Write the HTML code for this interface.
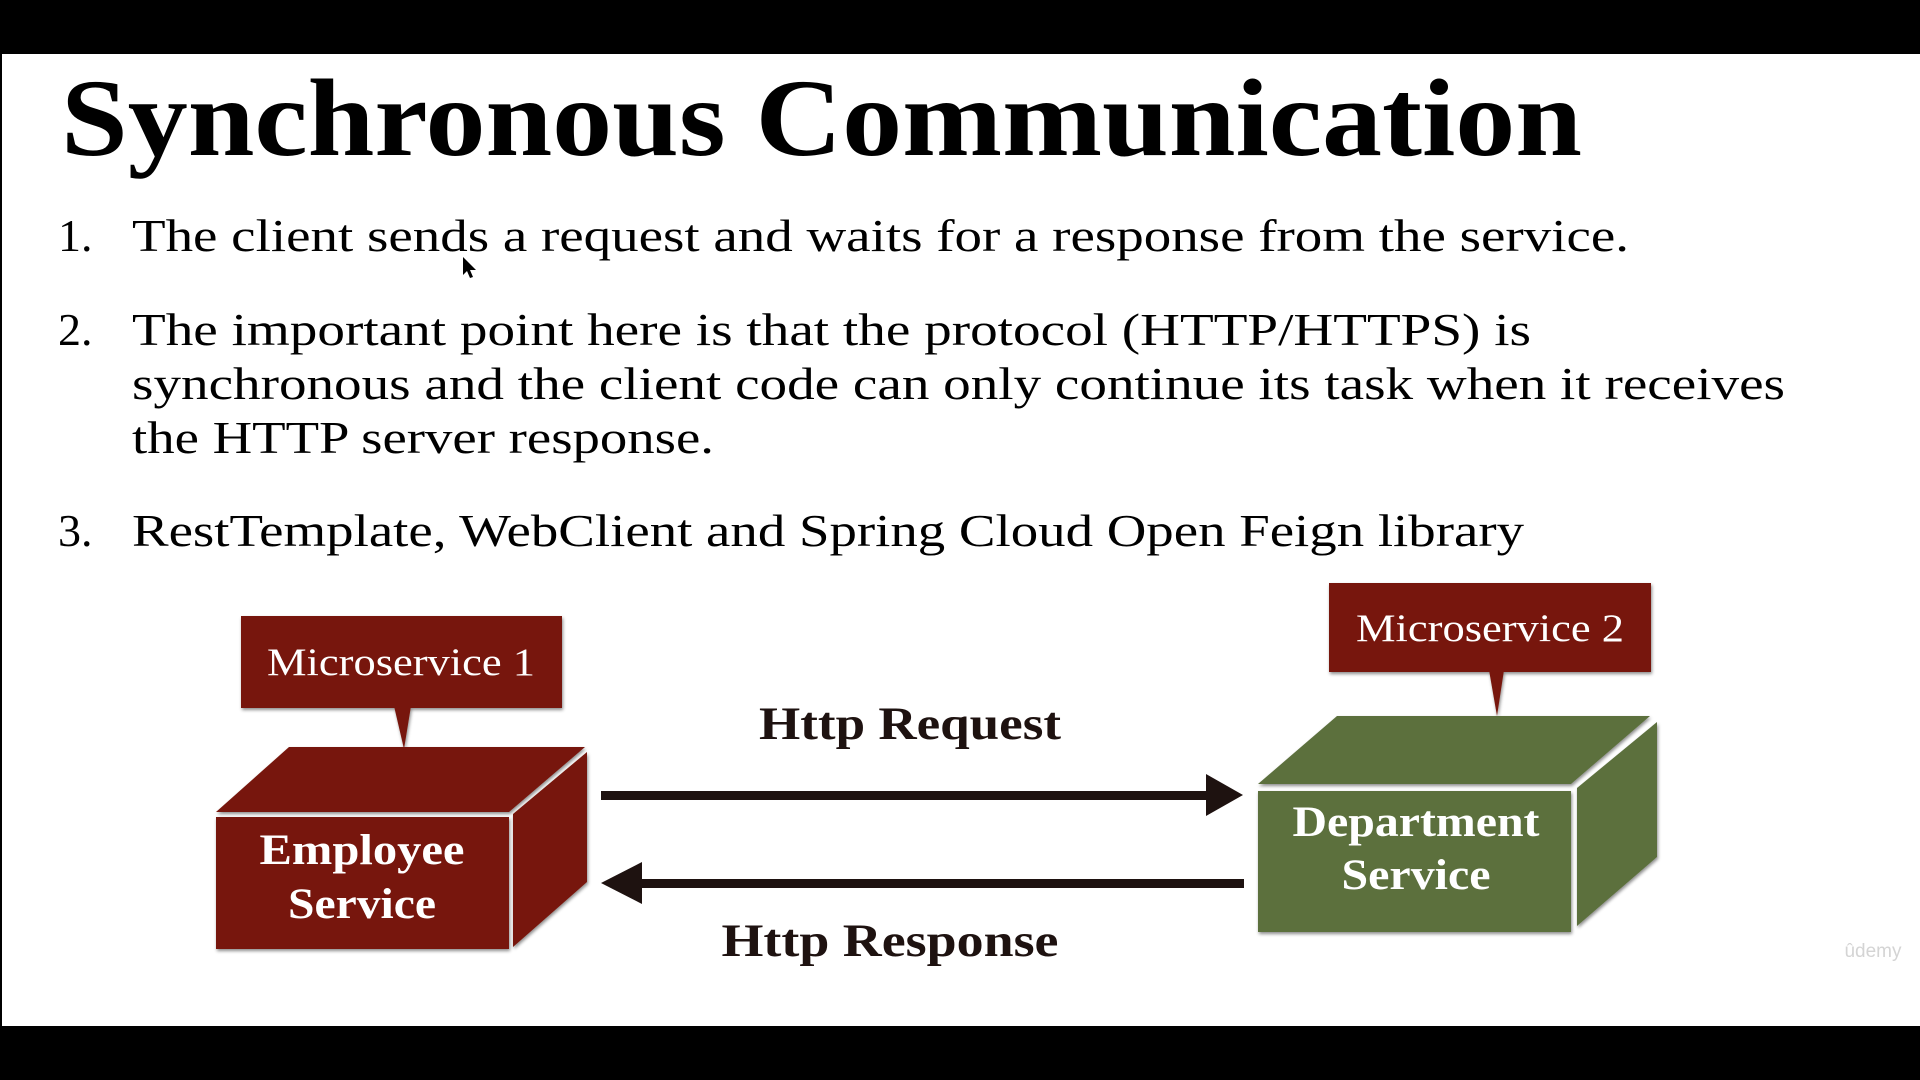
<!DOCTYPE html>
<html><head><meta charset="utf-8"><style>
html,body{margin:0;padding:0;background:#000;}
svg{display:block;}
</style></head><body>
<svg width="1920" height="1080" viewBox="0 0 1920 1080" xmlns="http://www.w3.org/2000/svg">
<defs>
<filter id="sh" x="-5%" y="-5%" width="110%" height="115%"><feDropShadow dx="1" dy="2" stdDeviation="1.5" flood-color="#000" flood-opacity="0.45"/></filter>
</defs>
<rect x="0" y="0" width="1920" height="1080" fill="#000"/>
<rect x="2" y="54" width="1918" height="972" fill="#fff"/>

<g font-family="'Liberation Serif', serif" fill="#000">
<text x="61" y="155" font-size="110" font-weight="bold" textLength="1521" lengthAdjust="spacingAndGlyphs">Synchronous Communication</text>
<g font-size="46">
<text x="58" y="251">1.</text>
<text x="132" y="251" textLength="1497" lengthAdjust="spacingAndGlyphs">The client sends a request and waits for a response from the service.</text>
<text x="58" y="345">2.</text>
<text x="132" y="345" textLength="1399" lengthAdjust="spacingAndGlyphs">The important point here is that the protocol (HTTP/HTTPS) is</text>
<text x="132" y="399" textLength="1653" lengthAdjust="spacingAndGlyphs">synchronous and the client code can only continue its task when it receives</text>
<text x="132" y="453" textLength="582" lengthAdjust="spacingAndGlyphs">the HTTP server response.</text>
<text x="58" y="546">3.</text>
<text x="132" y="546" textLength="1392" lengthAdjust="spacingAndGlyphs">RestTemplate, WebClient and Spring Cloud Open Feign library</text>
</g>
</g>

<polygon points="463,257 463,275 467,271 470,278 473,277 470,270 476,270" fill="#000"/>

<g filter="url(#sh)">
<rect x="241" y="616" width="321" height="92" fill="#771709"/>
<polygon points="394,706 411,706 404,749" fill="#771709"/>
</g>
<text x="401" y="675" font-family="'Liberation Serif', serif" font-size="39" fill="#fff" text-anchor="middle" textLength="268" lengthAdjust="spacingAndGlyphs">Microservice 1</text>

<g filter="url(#sh)">
<polygon points="216,812 509,812 585,747 289,747" fill="#771709"/>
<polygon points="513,814 587,752 587,882 513,947" fill="#771709"/>
<rect x="216" y="817" width="293" height="132" fill="#771709"/>
</g>
<g font-family="'Liberation Serif', serif" font-size="43" font-weight="bold" fill="#fff" text-anchor="middle">
<text x="362" y="864" textLength="205" lengthAdjust="spacingAndGlyphs">Employee</text>
<text x="362" y="918" textLength="148" lengthAdjust="spacingAndGlyphs">Service</text>
</g>

<rect x="601" y="791" width="615" height="9" fill="#1e1210"/>
<polygon points="1206,774 1243,795 1206,816" fill="#1e1210"/>
<rect x="634" y="879" width="610" height="9" fill="#1e1210"/>
<polygon points="642,862 601,883 642,904" fill="#1e1210"/>
<g font-family="'Liberation Serif', serif" font-size="47" font-weight="bold" fill="#1e1210" text-anchor="middle">
<text x="910" y="739" textLength="302" lengthAdjust="spacingAndGlyphs">Http Request</text>
<text x="890" y="956" textLength="337" lengthAdjust="spacingAndGlyphs">Http Response</text>
</g>

<g filter="url(#sh)">
<rect x="1329" y="583" width="322" height="89" fill="#771709"/>
<polygon points="1489,670 1504,670 1497,716" fill="#771709"/>
</g>
<text x="1490" y="641" font-family="'Liberation Serif', serif" font-size="39" fill="#fff" text-anchor="middle" textLength="268" lengthAdjust="spacingAndGlyphs">Microservice 2</text>

<g filter="url(#sh)">
<polygon points="1258,784 1571,784 1650,716 1337,716" fill="#5c6f3e"/>
<polygon points="1577,788 1657,722 1657,857 1577,926" fill="#5c6f3e"/>
<rect x="1258" y="791" width="313" height="141" fill="#5c6f3e"/>
</g>
<g font-family="'Liberation Serif', serif" font-size="43" font-weight="bold" fill="#fff" text-anchor="middle">
<text x="1416" y="836" textLength="247" lengthAdjust="spacingAndGlyphs">Department</text>
<text x="1416" y="889" textLength="149" lengthAdjust="spacingAndGlyphs">Service</text>
</g>

<text x="1873" y="957" font-family="'Liberation Sans', sans-serif" font-size="19" fill="#d4d4d4" text-anchor="middle">ûdemy</text>
</svg>
</body></html>
